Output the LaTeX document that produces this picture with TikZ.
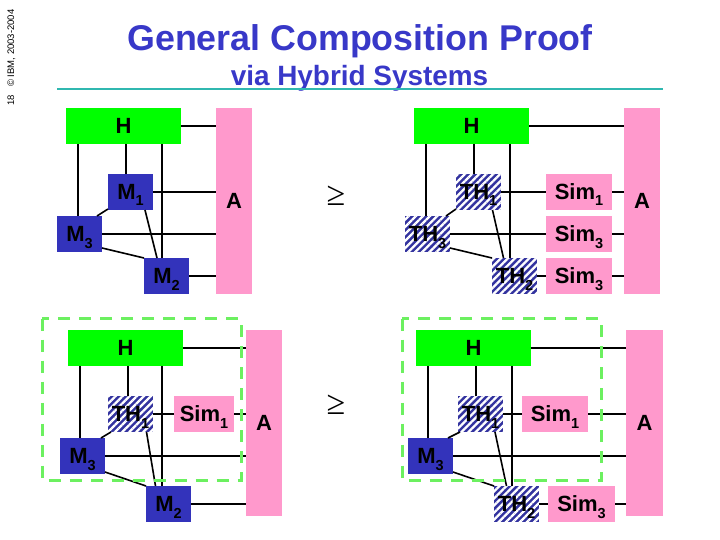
\documentclass[tikz,border=0pt]{standalone}
\usepackage{fontspec}
\setmainfont{Liberation Sans}
\newfontfamily\relfont{Liberation Serif}
\usetikzlibrary{patterns.meta}

\definecolor{slideblue}{HTML}{3838C8}
\definecolor{boxblue}{HTML}{3333BB}
\definecolor{hatchblue}{HTML}{33339F}
\definecolor{boxgreen}{HTML}{00FF00}
\definecolor{boxpink}{HTML}{FF99CC}
\definecolor{dashgreen}{HTML}{6CF060}
\definecolor{ruleteal}{HTML}{30B8B0}

\tikzset{
	box/.style={inner sep=0pt,outer sep=0pt,minimum height=36pt,text height=15pt,text depth=0pt,font=\bfseries\fontsize{22}{22}\selectfont},
	honest/.style={box,fill=boxgreen,minimum width=115pt},
	adv/.style={box,fill=boxpink,minimum width=36pt,minimum height=186pt},
	mach/.style={box,fill=boxblue,minimum width=45pt},
	thbox/.style={box,minimum width=45pt,preaction={fill=hatchblue},pattern={Lines[angle=45,distance=5pt,line width=2.3pt]},pattern color=white},
	simbox/.style={box,fill=boxpink,minimum height=36pt},
	wire/.style={line width=1.6pt,black},
	dashbox/.style={line width=3pt,dashgreen,dash pattern=on 12pt off 9pt},
	rel/.style={inner sep=0pt,font=\relfont\fontsize{34}{34}\selectfont}
}
\newcommand{\low}[1]{\raisebox{-6.5pt}{\fontsize{14.5}{15}\selectfont #1}}
\newcommand{\vwire}[3]{\draw[wire] ([xshift=#3]#2.north) coordinate (tmp) -- (tmp |- #1.south);}
\newcommand{\hwire}[2]{\draw[wire] (#1.east) -- (#1.east -| #2.west);}

\begin{document}
\begin{tikzpicture}[x=1pt,y=-1pt]
	\useasboundingbox (0,0) rectangle (720,540);

	% header
	\node[rotate=90,anchor=base west,inner sep=0pt,font=\fontsize{9.5}{9.5}\selectfont] (copy) at (14,87) {© IBM, 2003-2004};
	\node[rotate=90,anchor=base west,inner sep=0pt,font=\fontsize{9.5}{9.5}\selectfont] (num) at (14,106) {18};
	\node[anchor=base,inner sep=0pt,slideblue,font=\bfseries\fontsize{35.8}{36}\selectfont] (title) at (360,50.5) {General Composition Proof};
	\node[anchor=base,inner sep=0pt,slideblue,font=\bfseries\fontsize{27.9}{28}\selectfont] (subtitle) at (359.5,86) {via Hybrid Systems};
	\draw[ruleteal,line width=2pt] (57,89.5) -- (663,89.5);

	% top left
	\node[honest] (H1) at (123.5,126) {H};
	\node[adv] (A1) at (234,201) {A};
	\node[mach] (M11) at (130.5,192) {M\low{1}};
	\node[mach] (M31) at (79.5,234) {M\low{3}};
	\node[mach] (M21) at (166.5,276) {M\low{2}};
	\hwire{H1}{A1}
	\hwire{M11}{A1}
	\hwire{M31}{A1}
	\hwire{M21}{A1}
	\vwire{H1}{M31}{-1.5}
	\vwire{H1}{M11}{-4.5}
	\vwire{H1}{M21}{-4.5}
	\draw[wire] ([yshift=1]M11.south west) -- ([xshift=-5]M31.north east);
	\draw[wire] ([xshift=14.5]M11.south) -- ([xshift=-9.5]M21.north);
	\draw[wire] ([yshift=4]M31.south east) -- (M21.north west);

	% top right
	\node[honest] (H2) at (471.5,126) {H};
	\node[adv] (A2) at (642,201) {A};
	\node[thbox] (T12) at (478.5,192) {TH\low{1}};
	\node[thbox] (T32) at (427.5,234) {TH\low{3}};
	\node[thbox] (T22) at (514.5,276) {TH\low{2}};
	\node[simbox,minimum width=66pt] (S12) at (579,192) {Sim\low{1}};
	\node[simbox,minimum width=66pt] (S32) at (579,234) {Sim\low{3}};
	\node[simbox,minimum width=66pt] (S22) at (579,276) {Sim\low{3}};
	\hwire{H2}{A2}
	\hwire{T12}{S12}
	\hwire{S12}{A2}
	\hwire{T32}{S32}
	\hwire{S32}{A2}
	\hwire{T22}{S22}
	\hwire{S22}{A2}
	\vwire{H2}{T32}{-1.5}
	\vwire{H2}{T12}{-4.5}
	\vwire{H2}{T22}{-4.5}
	\draw[wire] ([yshift=1]T12.south west) -- ([xshift=-4]T32.north east);
	\draw[wire] ([xshift=14]T12.south) -- ([xshift=-11]T22.north);
	\draw[wire] ([yshift=4]T32.south east) -- (T22.north west);

	\node[rel] (ge1) at (336,196) {≥};
	\node[rel] (ge2) at (336,405) {≥};

	% bottom left
	\node[honest] (H3) at (125.5,348) {H};
	\node[adv] (A3) at (264,423) {A};
	\node[thbox] (T13) at (130.5,414) {TH\low{1}};
	\node[simbox,minimum width=60pt] (S13) at (204,414) {Sim\low{1}};
	\node[mach] (M33) at (82.5,456) {M\low{3}};
	\node[mach] (M23) at (168.5,504) {M\low{2}};
	\hwire{H3}{A3}
	\hwire{T13}{S13}
	\hwire{S13}{A3}
	\hwire{M33}{A3}
	\hwire{M23}{A3}
	\vwire{H3}{M33}{-2.5}
	\vwire{H3}{T13}{-2.5}
	\vwire{H3}{M23}{-6.5}
	\draw[wire] ([xshift=3]T13.south west) -- ([xshift=-4]M33.north east);
	\draw[wire] ([xshift=16]T13.south) -- ([xshift=-13]M23.north);
	\draw[wire] ([yshift=2]M33.south east) -- (M23.north west);
	\draw[dashbox] (42,318.5) rectangle (241,480);

	% bottom right
	\node[honest] (H4) at (473.5,348) {H};
	\node[adv,minimum width=37pt] (A4) at (644.5,423) {A};
	\node[thbox] (T14) at (480.5,414) {TH\low{1}};
	\node[simbox,minimum width=66pt] (S14) at (555,414) {Sim\low{1}};
	\node[mach] (M34) at (430.5,456) {M\low{3}};
	\node[thbox] (T24) at (516.5,504) {TH\low{2}};
	\node[simbox,minimum width=67pt] (S24) at (581.5,504) {Sim\low{3}};
	\hwire{H4}{A4}
	\hwire{T14}{S14}
	\hwire{S14}{A4}
	\hwire{M34}{A4}
	\hwire{T24}{S24}
	\hwire{S24}{A4}
	\vwire{H4}{M34}{-2.5}
	\vwire{H4}{T14}{-4.5}
	\vwire{H4}{T24}{-4.5}
	\draw[wire] ([xshift=2]T14.south west) -- ([xshift=-5]M34.north east);
	\draw[wire] ([xshift=14.5]T14.south) -- ([xshift=-10]T24.north);
	\draw[wire] ([yshift=2]M34.south east) -- (T24.north west);
	\draw[dashbox] (402,318.5) rectangle (601,480);
\end{tikzpicture}
\end{document}
